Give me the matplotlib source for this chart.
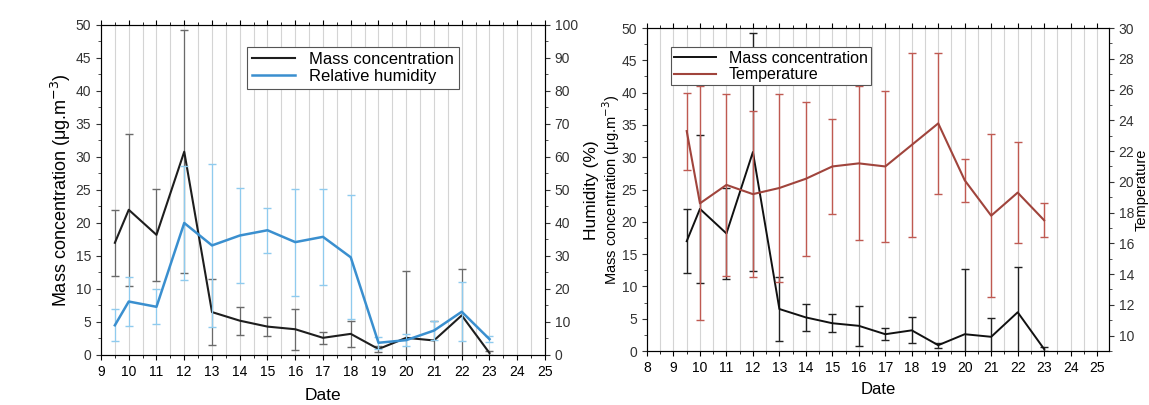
import numpy as np
import matplotlib
matplotlib.use("Agg")
import matplotlib.pyplot as plt
from matplotlib.ticker import MultipleLocator

plt.rcParams['font.family'] = ['Liberation Sans', 'DejaVu Sans']

# dates (day of month)
dates = [9.5, 10, 11, 12, 13, 14, 15, 16, 17, 18, 19, 20, 21, 22, 23]

# mass concentration (ug/m3) and its std
mass = [17.0, 22.0, 18.2, 30.8, 6.5, 5.2, 4.3, 3.9, 2.6, 3.2, 0.9, 2.6, 2.2, 6.0, 0.3]
mass_err = [5.0, 11.5, 7.0, 18.4, 5.0, 2.1, 1.4, 3.1, 0.9, 2.0, 0.4, 10.1, 2.9, 7.0, 0.3]

# relative humidity (%)
humidity = [9.0, 16.2, 14.6, 40.0, 33.2, 36.2, 37.8, 34.2, 35.8, 29.6, 3.7, 4.5, 7.4, 13.1, 4.8]
humidity_err = [4.8, 7.5, 5.3, 17.4, 24.8, 14.4, 6.8, 16.2, 14.6, 18.8, 1.8, 1.8, 3.0, 9.0, 1.0]

# temperature
temperature = [23.3, 18.6, 19.8, 19.2, 19.6, 20.2, 21.0, 21.2, 21.0, 22.4, 23.8, 20.1, 17.8, 19.3, 17.5]
temperature_err = [2.5, 7.6, 5.9, 5.4, 6.1, 5.0, 3.1, 5.0, 4.9, 6.0, 4.6, 1.4, 5.3, 3.3, 1.1]

fig = plt.figure(figsize=(11.49, 4.05), dpi=100)

grid_c = '#d4d4d4'


def style_x(ax, xmin, xmax, fs):
    ax.set_xlim(xmin, xmax)
    ax.xaxis.set_major_locator(MultipleLocator(1))
    ax.xaxis.set_minor_locator(MultipleLocator(0.5))
    for g in np.arange(xmin + 0.5, xmax, 0.5):
        ax.axvline(g, color=grid_c, lw=0.8, zorder=0)
    ax.tick_params(axis='x', which='both', direction='out', top=True, labelsize=fs)
    for sp in ax.spines.values():
        sp.set_color('#333333')


# ---------------- left panel ----------------
ax1 = fig.add_axes([0.0879, 0.1235, 0.3864, 0.8148])
ax1.errorbar(dates, mass, yerr=mass_err, color='#1e1e1e', lw=1.5, ecolor='#6a6a6a',
             elinewidth=0.9, capsize=3, zorder=3)
ax1.set_ylim(0, 50)
ax1.yaxis.set_major_locator(MultipleLocator(5))
ax1.yaxis.set_minor_locator(MultipleLocator(2.5))
ax1.tick_params(axis='y', which='both', direction='out', labelsize=10, colors='#333333')
ax1.set_ylabel('Mass concentration (μg.m$^{-3}$)', fontsize=13)
ax1.yaxis.set_label_coords(-0.063, 0.5)
ax1.set_xlabel('Date', fontsize=12.5)
ax1.xaxis.set_label_coords(0.5, -0.1)
style_x(ax1, 9, 25, 10)
ax1.set_xticks(range(9, 26))

ax1b = ax1.twinx()
ax1b.errorbar(dates, humidity, yerr=humidity_err, color='#3a8fcf', lw=1.8, ecolor='#8fcbee',
              elinewidth=0.9, capsize=3, zorder=3)
ax1b.set_ylim(0, 100)
ax1b.yaxis.set_major_locator(MultipleLocator(10))
ax1b.yaxis.set_minor_locator(MultipleLocator(5))
ax1b.tick_params(axis='y', which='both', direction='out', labelsize=10, colors='#333333')
ax1b.set_ylabel('Humidity (%)', fontsize=12.5)
ax1b.yaxis.set_label_coords(1.088, 0.5)
ax1b.plot([], [], color='#1e1e1e', lw=1.5, label='Mass concentration')
ax1b.plot([], [], color='#3a8fcf', lw=1.8, label='Relative humidity')
leg = ax1b.legend(loc='upper left', bbox_to_anchor=(0.31, 0.96), fontsize=12, fancybox=False,
                  edgecolor='#555555', framealpha=1, handlelength=2.6, borderpad=0.3,
                  labelspacing=0.15)
leg.get_frame().set_linewidth(0.8)

# ---------------- right panel ----------------
ax2 = fig.add_axes([0.5631, 0.1333, 0.4021, 0.7975])
ax2.errorbar(dates, mass, yerr=mass_err, color='#111111', lw=1.4, ecolor='#222222',
             elinewidth=1.0, capsize=3, zorder=3)
ax2.set_ylim(0, 50)
ax2.yaxis.set_major_locator(MultipleLocator(5))
ax2.yaxis.set_minor_locator(MultipleLocator(2.5))
ax2.tick_params(axis='y', which='both', direction='out', labelsize=10, colors='#333333')
ax2.set_ylabel('Mass concentration (μg.m$^{-3}$)', fontsize=10.5)
ax2.yaxis.set_label_coords(-0.055, 0.5)
ax2.set_xlabel('Date', fontsize=12)
ax2.xaxis.set_label_coords(0.5, -0.097)
style_x(ax2, 8, 25.45, 10)
ax2.set_xticks(range(8, 26))

ax2b = ax2.twinx()
ax2b.errorbar(dates, temperature, yerr=temperature_err, color='#a0443c', lw=1.5,
              ecolor='#bf5a52', elinewidth=1.0, capsize=3, zorder=3)
ax2b.set_ylim(9, 30)
ax2b.set_yticks(range(10, 31, 2))
ax2b.yaxis.set_minor_locator(MultipleLocator(1))
ax2b.tick_params(axis='y', which='both', direction='out', labelsize=10, colors='#333333')
ax2b.set_ylabel('Temperature', fontsize=10.5)
ax2b.yaxis.set_label_coords(1.056, 0.5)
ax2b.plot([], [], color='#111111', lw=1.4, label='Mass concentration')
ax2b.plot([], [], color='#a0443c', lw=1.5, label='Temperature')
leg2 = ax2b.legend(loc='upper left', bbox_to_anchor=(0.035, 0.965), fontsize=11.5, fancybox=False,
                   edgecolor='#555555', framealpha=1, handlelength=2.6, borderpad=0.2,
                   labelspacing=0.1)
leg2.get_frame().set_linewidth(0.8)

fig.savefig('out.png', dpi=100)
